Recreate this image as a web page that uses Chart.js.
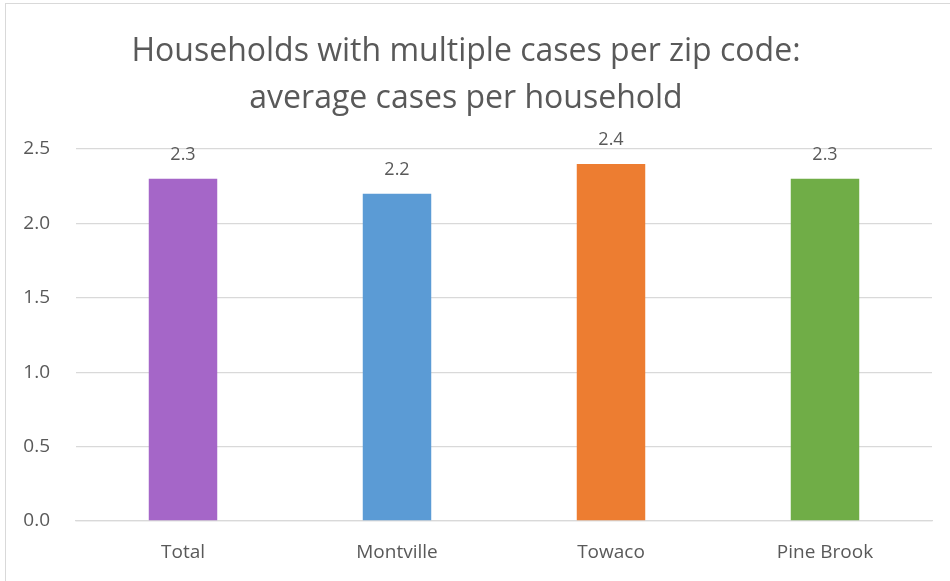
<!DOCTYPE html>
<html>
<head>
<meta charset="utf-8">
<script src="https://cdn.jsdelivr.net/npm/chart.js@4"></script>
<style>
  html, body { margin: 0; padding: 0; background: #fff; }
  #wrap { position: relative; width: 950px; height: 581px; overflow: hidden; }
  #frame { position: absolute; left: 5px; top: 3px; width: 980px; height: 600px; border: 1.5px solid #d9d9d9; box-sizing: border-box; }
  canvas { position: absolute; left: 0; top: 0; }
</style>
</head>
<body>
<div id="wrap">
  <div id="frame"></div>
  <canvas id="chart" width="950" height="581"></canvas>
</div>
<script>
const titleLines = ["Households with multiple cases per zip code:", "average cases per household"];
const zipCodes = ["Total", "Montville", "Towaco", "Pine Brook"];
const avgCases = [2.3, 2.2, 2.4, 2.3];
const barColors = ["#A566C8", "#5B9BD5", "#ED7D31", "#70AD47"];
const yTicks = [0, 0.5, 1.0, 1.5, 2.0, 2.5];

const textColor = "#595959";
const font = "'Open Sans', 'Liberation Sans', sans-serif";

// draws the value above each bar
const valueLabels = {
  id: "valueLabels",
  afterDatasetsDraw(chart) {
    const ctx = chart.ctx;
    const meta = chart.getDatasetMeta(0);
    ctx.save();
    ctx.font = "18px " + font;
    ctx.fillStyle = textColor;
    ctx.textAlign = "center";
    ctx.textBaseline = "middle";
    meta.data.forEach((bar, i) => {
      ctx.fillText(avgCases[i].toFixed(1), bar.x, bar.y - 24);
    });
    ctx.restore();
  },
};

new Chart(document.getElementById("chart"), {
  type: "bar",
  data: {
    labels: zipCodes,
    datasets: [
      {
        data: avgCases,
        backgroundColor: barColors,
        borderWidth: 0,
        barPercentage: 0.32,
        categoryPercentage: 1,
      },
    ],
  },
  options: {
    responsive: false,
    animation: false,
    layout: { padding: { left: 0, right: 18, top: 0, bottom: 0 } },
    plugins: {
      legend: { display: false },
      tooltip: { enabled: false },
      title: {
        display: true,
        text: titleLines,
        color: textColor,
        font: { family: font, size: 32, weight: "normal", lineHeight: 1.47 },
        padding: { top: 28, bottom: 27 },
      },
    },
    scales: {
      y: {
        min: 0,
        max: 2.5,
        afterBuildTicks: (scale) => {
          scale.ticks = yTicks.map((v) => ({ value: v }));
        },
        afterFit: (scale) => {
          scale.width = 76;
        },
        border: { display: false },
        grid: { color: "#d9d9d9", lineWidth: 1.3, drawTicks: false },
        ticks: {
          color: textColor,
          font: { family: font, size: 19 },
          padding: 26,
          callback: (v) => Number(v).toFixed(1),
        },
      },
      x: {
        afterFit: (scale) => {
          scale.height = 60;
        },
        border: { display: true, color: "#d9d9d9", width: 1.3 },
        grid: { display: false },
        ticks: {
          color: textColor,
          font: { family: font, size: 19 },
          padding: 12,
        },
      },
    },
  },
  plugins: [valueLabels],
});
</script>
</body>
</html>
